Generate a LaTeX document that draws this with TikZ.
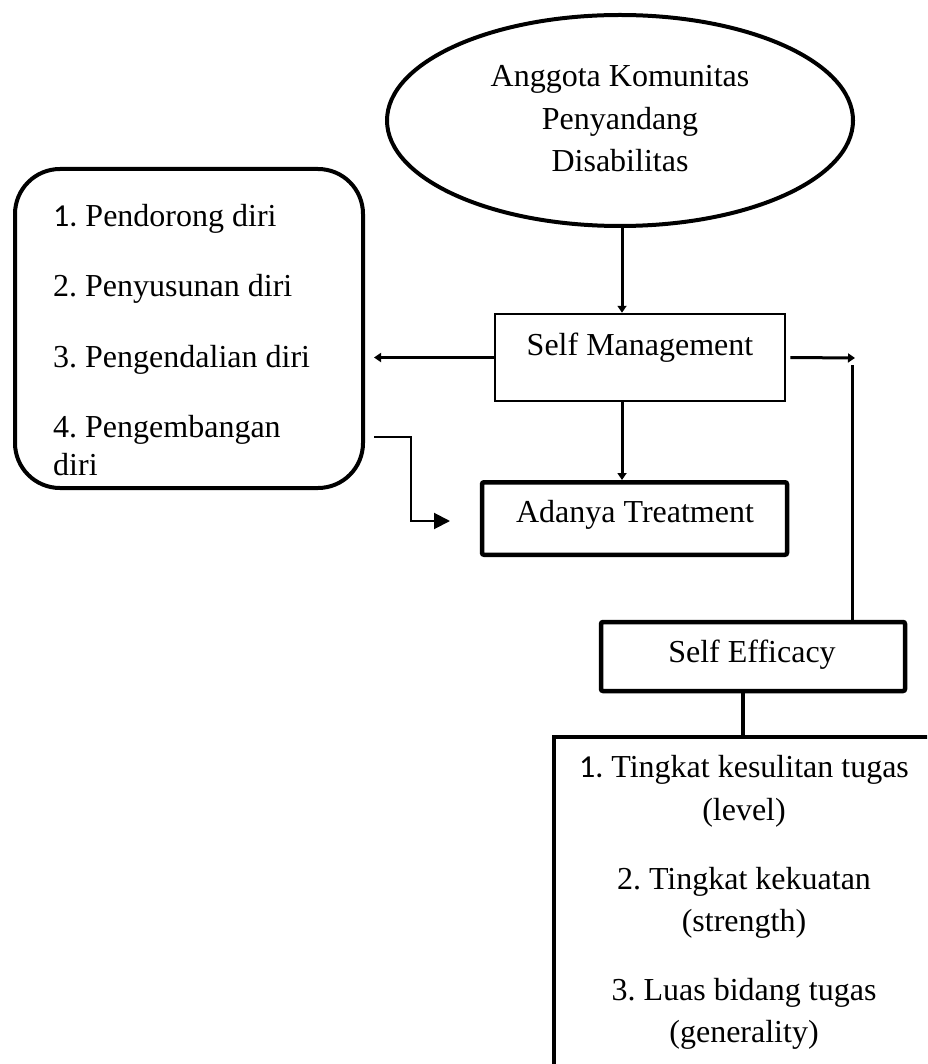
\documentclass[tikz,border=0pt]{standalone}
\usepackage{fontspec}
\setmainfont{Liberation Serif}
\newfontfamily\calibrifont{Carlito}
\usetikzlibrary{shapes.geometric,arrows.meta}
\frenchspacing
\begin{document}
\begin{tikzpicture}[x=1pt,y=-1pt,
  txt/.style={inner sep=0pt, font=\fontsize{32}{38}\selectfont},
  boxthin/.style={draw, rectangle, inner sep=0pt, line width=2.5pt},
  boxthick/.style={draw, rectangle, inner sep=0pt, line width=4.5pt, rounded corners=2pt},
  thinarrow/.style={line width=3pt, -{Triangle[length=7pt,width=9pt]}},
  plainline/.style={line width=3pt},
  ]
\useasboundingbox (0,0) rectangle (927,1064);
\clip (0,0) rectangle (927,1064);
\fill[white] (0,0) rectangle (927,1064);

% shapes
\node[draw, ellipse, line width=4pt, minimum width=466pt, minimum height=211pt, inner sep=0pt] (ell) at (620,120.5) {};
\node[draw, rectangle, rounded corners=45pt, line width=4pt, minimum width=348pt, minimum height=319pt, inner sep=0pt] (lbox) at (189,328.5) {};
\node[boxthin, minimum width=290pt, minimum height=87pt] (sm) at (640,357.5) {};
\node[boxthick, minimum width=305pt, minimum height=72.5pt] (at) at (634.5,518.5) {};
\node[boxthick, minimum width=304pt, minimum height=69pt] (se) at (753,656.5) {};
\node[draw, rectangle, inner sep=0pt, line width=4pt, minimum width=446pt, minimum height=363pt] (bbox) at (777,918.5) {};

% texts
\node[txt, anchor=base] (t1) at (620,87) {Anggota Komunitas};
\node[txt, anchor=base] (t2) at (620,130) {Penyandang};
\node[txt, anchor=base] (t3) at (620,172) {Disabilitas};

\node[txt, anchor=base west] (l1) at (53,227) {{\calibrifont 1.} Pendorong diri};
\node[txt, anchor=base west] (l2) at (53,297) {2. Penyusunan diri};
\node[txt, anchor=base west] (l3) at (53,367) {3. Pengendalian diri};
\node[txt, anchor=base west] (l4) at (53,437) {4. Pengembangan};
\node[txt, anchor=base west] (l5) at (53,475) {diri};

\node[txt, anchor=base] (smt) at (640,355) {Self Management};
\node[txt, anchor=base] (att) at (635,522) {Adanya Treatment};
\node[txt, anchor=base] (set) at (752,662) {Self Efficacy};

\node[txt, anchor=base] (b1) at (744,777) {{\calibrifont 1.} Tingkat kesulitan tugas};
\node[txt, anchor=base] (b2) at (744,820) {(level)};
\node[txt, anchor=base] (b3) at (744,889) {2. Tingkat kekuatan};
\node[txt, anchor=base] (b4) at (744,931) {(strength)};
\node[txt, anchor=base] (b5) at (744,1000) {3. Luas bidang tugas};
\node[txt, anchor=base] (b6) at (744,1042) {(generality)};

% helper coordinates
\coordinate (ax) at (622,0);
\coordinate (bx) at (743,0);
\coordinate (rtip) at (855,358);
\coordinate (rtop) at (852,365);
\coordinate (el) at (374,437);
\coordinate (eltip) at (450,521);

% connectors
\draw[thinarrow] (ell.south -| ax) -- (sm.north -| ax);
\draw[thinarrow] (sm.south -| ax) -- (at.north -| ax);
\draw[thinarrow, shorten >=9pt] (sm.west) -- (sm.west -| lbox.east);
\draw[thinarrow] ([xshift=4pt]sm.east) -- (rtip);
\draw[plainline] (rtop) -- (rtop |- se.north);
\draw[line width=4pt] (se.south -| bx) -- (bbox.north -| bx);
\draw[line width=2pt, -{Triangle[length=16pt,width=16pt]}] (el) -- ++(37,0) |- (eltip);
\end{tikzpicture}
\end{document}
